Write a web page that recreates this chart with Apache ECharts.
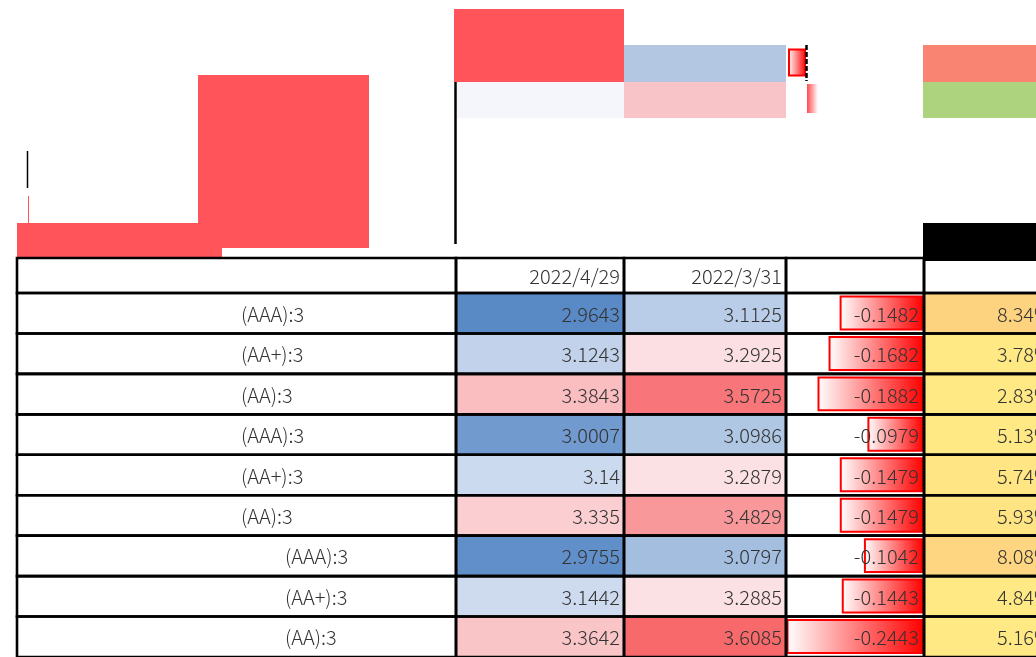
<!DOCTYPE html>
<html>
<head>
<meta charset="utf-8">
<style>
html, body { margin: 0; padding: 0; background: #fff; }
#main { width: 1036px; height: 657px; }
</style>
<script src="https://cdn.jsdelivr.net/npm/echarts@6/dist/echarts.min.js"></script>
</head>
<body>
<div id="main"></div>
<script>
// 行ラベル・ヘッダー
const rowLabels = ['(AAA):3', '(AA+):3', '(AA):3', '(AAA):3', '(AA+):3', '(AA):3', '(AAA):3', '(AA+):3', '(AA):3'];
const labelIndent = [0, 0, 0, 0, 0, 0, 1, 1, 1];
const dateHeaders = ['2022/4/29', '2022/3/31'];
// 各列の値
const valApr = [2.9643, 3.1243, 3.3843, 3.0007, 3.14, 3.335, 2.9755, 3.1442, 3.3642];
const valMar = [3.1125, 3.2925, 3.5725, 3.0986, 3.2879, 3.4829, 3.0797, 3.2885, 3.6085];
const valDiff = [-0.1482, -0.1682, -0.1882, -0.0979, -0.1479, -0.1479, -0.1042, -0.1443, -0.2443];
const valPct = [8.34, 3.78, 2.83, 5.13, 5.74, 5.93, 8.08, 4.84, 5.16];

// 列の境界（x軸の単位、最後の列は画面外まで続く）
const colEdges = [0, 439, 607, 769, 907, 1060];
const X_MAX = 1019;
const FONT = { fontSize: 20, fontFamily: '"Noto Sans CJK JP", "Noto Sans", sans-serif', fontWeight: 300 };
const TEXT_COLOR = '#333';
const LINE_W = 2.6;

// 3色スケール（青-白-赤、中央値基準）
const both = valApr.concat(valMar).sort((a, b) => a - b);
const lo = both[0], hi = both[both.length - 1];
const mid = (both[both.length / 2 - 1] + both[both.length / 2]) / 2;
function scaleColor(v) {
  const t = v <= mid ? 0.5 * (v - lo) / (mid - lo) : 0.5 + 0.5 * (v - mid) / (hi - mid);
  return echarts.color.lerp(t, ['#5A8AC6', '#FCFCFF', '#F8696B']);
}
const pctSorted = valPct.slice().sort((a, b) => a - b);
const pctMid = pctSorted[Math.floor(pctSorted.length / 2)];
const pctTop = 24;
function pctColor(v) {
  const t = Math.max(0, (v - pctMid) / (pctTop - pctMid));
  return echarts.color.lerp(t, ['#FFE984', '#F8696B']);
}
const diffMax = Math.max.apply(null, valDiff.map(Math.abs));

function cellBox(api, col, row) {
  const a = api.coord([colEdges[col], row]);
  const b = api.coord([colEdges[col + 1], row]);
  const h = api.size([0, 1])[1];
  return { x: a[0], y: a[1] - h / 2, w: b[0] - a[0], h: h };
}
function cellParts(box, fill) {
  return [
    { type: 'rect', shape: { x: box.x, y: box.y, width: box.w, height: box.h }, style: { fill: fill }, z2: 0 },
    { type: 'rect', shape: { x: box.x, y: box.y, width: box.w, height: box.h },
      style: { fill: null, stroke: '#000', lineWidth: LINE_W }, z2: 10 }
  ];
}
function rightText(box, text, pad) {
  return { type: 'text', z2: 5, style: Object.assign({
    text: text, x: box.x + box.w - (pad == null ? 4 : pad), y: box.y + box.h / 2 + 1,
    align: 'right', verticalAlign: 'middle', fill: TEXT_COLOR }, FONT) };
}

const headerTexts = ['', dateHeaders[0], dateHeaders[1], '', ''];

function renderHeader(params, api) {
  const col = api.value(0);
  const box = cellBox(api, col, 0);
  return { type: 'group', children: cellParts(box, '#fff').concat([rightText(box, headerTexts[col])]) };
}
function renderLabel(params, api) {
  const row = api.value(1);
  const box = cellBox(api, 0, row);
  return { type: 'group', children: cellParts(box, '#fff').concat([{
    type: 'text', z2: 5, style: Object.assign({
      text: rowLabels[row], x: box.x + 224 + 44 * labelIndent[row], y: box.y + box.h / 2 + 1,
      align: 'left', verticalAlign: 'middle', fill: TEXT_COLOR }, FONT)
  }]) };
}
function renderScale(params, api) {
  const col = api.value(0), row = api.value(1), v = api.value(2);
  const box = cellBox(api, col, row);
  return { type: 'group', children: cellParts(box, scaleColor(v)).concat([rightText(box, String(v))]) };
}
function renderDiff(params, api) {
  const row = api.value(1), v = api.value(2);
  const box = cellBox(api, 3, row);
  const full = box.w - 3;
  const len = Math.abs(v) / diffMax * full;
  const right = box.x + box.w - 1.5;
  const bar = {
    type: 'rect', z2: 2,
    shape: { x: right - len, y: box.y + 3.5, width: len, height: box.h - 7.5 },
    style: {
      fill: new echarts.graphic.LinearGradient(0, 0, 1, 0, [
        { offset: 0, color: '#FFFFFF' }, { offset: 1, color: '#FF0000' }]),
      stroke: '#FF0000', lineWidth: 2
    }
  };
  return { type: 'group', children: cellParts(box, '#fff').concat([bar, rightText(box, String(v), 5)]) };
}
function renderPct(params, api) {
  const row = api.value(1), v = api.value(2);
  const box = cellBox(api, 4, row);
  const t = rightText(box, v.toFixed(2) + '%');
  t.style.x = box.x + 128;
  return { type: 'group', children: cellParts(box, pctColor(v)).concat([t]) };
}

const rowIdx = rowLabels.map((_, i) => i);
const chart = echarts.init(document.getElementById('main'));

const RED = '#FF555A';
const deco = [
  { type: 'rect', shape: { x: 17, y: 223, width: 205, height: 38 }, style: { fill: RED } },
  { type: 'rect', shape: { x: 198, y: 75, width: 171, height: 173 }, style: { fill: RED } },
  { type: 'line', shape: { x1: 27.5, y1: 151, x2: 27.5, y2: 188 }, style: { stroke: '#000', lineWidth: 1.5 } },
  { type: 'line', shape: { x1: 28.5, y1: 196, x2: 28.5, y2: 223 }, style: { stroke: RED, lineWidth: 1 } },
  { type: 'rect', shape: { x: 454, y: 9, width: 170, height: 73 }, style: { fill: RED } },
  { type: 'rect', shape: { x: 457, y: 82, width: 167, height: 36 }, style: { fill: '#F5F6FC' } },
  { type: 'line', shape: { x1: 455.5, y1: 82, x2: 455.5, y2: 244 }, style: { stroke: '#000', lineWidth: 2.5 } },
  { type: 'rect', shape: { x: 624, y: 45, width: 162, height: 37 }, style: { fill: '#B3C6E2' } },
  { type: 'rect', shape: { x: 624, y: 82, width: 162, height: 36 }, style: { fill: '#F9C4C8' } },
  { type: 'rect', shape: { x: 789, y: 49.5, width: 16, height: 26 },
    style: { fill: new echarts.graphic.LinearGradient(0, 0, 1, 0, [
      { offset: 0, color: '#FFFFFF' }, { offset: 1, color: '#FF0000' }]), stroke: '#FF0000', lineWidth: 2 } },
  { type: 'line', shape: { x1: 806.5, y1: 45, x2: 806.5, y2: 81 }, style: { stroke: '#000', lineWidth: 2.5, lineDash: [5, 2] } },
  { type: 'rect', shape: { x: 807, y: 84, width: 11, height: 29 },
    style: { fill: new echarts.graphic.LinearGradient(0, 0, 1, 0, [
      { offset: 0, color: '#FF4A50' }, { offset: 1, color: '#FFFFFF' }]) } },
  { type: 'rect', shape: { x: 923, y: 45, width: 113, height: 37 }, style: { fill: '#FA8472' } },
  { type: 'rect', shape: { x: 923, y: 82, width: 113, height: 36 }, style: { fill: '#ADD37F' } },
  { type: 'rect', shape: { x: 923, y: 223, width: 113, height: 38 }, style: { fill: '#000' }, z: 5 }
];

const xAxisBase = { type: 'value', min: 0, max: X_MAX, show: false };

chart.setOption({
  animation: false,
  backgroundColor: '#fff',
  graphic: { elements: deco },
  grid: [
    { left: 17, right: 0, top: 258, height: 35 },
    { left: 17, right: 0, top: 293, height: 41 * rowLabels.length }
  ],
  xAxis: [
    Object.assign({ gridIndex: 0 }, xAxisBase),
    Object.assign({ gridIndex: 1 }, xAxisBase)
  ],
  yAxis: [
    { gridIndex: 0, type: 'category', data: [''], inverse: true, show: false },
    { gridIndex: 1, type: 'category', data: rowLabels, inverse: true, show: false }
  ],
  series: [
    { type: 'custom', name: 'header', xAxisIndex: 0, yAxisIndex: 0, renderItem: renderHeader, clip: false,
      data: headerTexts.map((_, c) => [c, 0]) },
    { type: 'custom', name: 'label', xAxisIndex: 1, yAxisIndex: 1, renderItem: renderLabel, clip: false,
      data: rowIdx.map(r => [0, r]) },
    { type: 'custom', name: '2022/4/29', xAxisIndex: 1, yAxisIndex: 1, renderItem: renderScale, clip: false,
      data: valApr.map((v, r) => [1, r, v]) },
    { type: 'custom', name: '2022/3/31', xAxisIndex: 1, yAxisIndex: 1, renderItem: renderScale, clip: false,
      data: valMar.map((v, r) => [2, r, v]) },
    { type: 'custom', name: 'diff', xAxisIndex: 1, yAxisIndex: 1, renderItem: renderDiff, clip: false,
      data: valDiff.map((v, r) => [3, r, v]) },
    { type: 'custom', name: 'pct', xAxisIndex: 1, yAxisIndex: 1, renderItem: renderPct, clip: false,
      data: valPct.map((v, r) => [4, r, v]) }
  ]
});
</script>
</body>
</html>
